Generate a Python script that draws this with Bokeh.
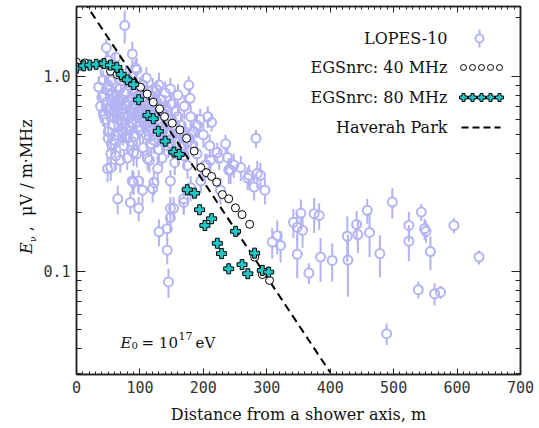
import math
from bokeh.plotting import figure
from bokeh.layouts import row
from bokeh.models import (Range1d, FixedTicker, LinearAxis, LogAxis, Label, Div,
                          PrintfTickFormatter, CustomJSTickFormatter)
from bokeh.embed import file_html
from bokeh.resources import INLINE

# ---------------- data ----------------
lopes_dist = [
    45, 60, 78, 95, 110, 55, 130, 35, 50, 68, 85, 100, 120, 140, 160,
    40, 55, 65, 75, 88, 98, 108, 118, 132, 150, 170,
    38, 48, 58, 70, 80, 92, 102, 112, 125, 138, 155, 180, 195,
    45, 60, 72, 82, 95, 105, 115, 128, 142, 165, 185, 200,
    50, 65, 78, 90, 100, 110, 122, 135, 150, 175, 210,
    55, 75, 88, 105, 118, 130, 145, 160, 190, 225,
    62, 80, 95, 115, 135, 155, 170, 205, 240,
    70, 90, 105, 115, 125, 140, 85, 65, 100, 120, 145, 160, 180, 190, 115, 95, 58, 42, 170, 150,
    42, 52, 62, 72, 82, 92, 102, 112, 122, 132, 142, 152, 162, 172, 182,
    58, 68, 78, 88, 98, 108, 118, 128, 138, 148, 158, 168,
    48, 63, 73, 83, 93, 103, 113, 123, 133, 143, 70, 60, 80,
    76, 47, 88, 93, 127, 148, 177, 179, 207, 213, 283, 235, 248, 272, 290, 280, 297, 227, 203, 50, 62,
    54, 65, 90, 112, 122, 153, 169, 180, 196, 211, 222, 238, 243, 259, 270, 285,
    50, 73, 54, 69, 49, 90, 128, 88, 98, 104, 85, 120, 148, 175,
    98, 148, 169, 148, 143, 130, 143, 145,
    316.5, 321.7, 308.6, 342, 348, 353.7, 356.4, 374.7, 382.6, 348, 366.4, 384.8,
    403.2, 426.9, 427.9, 441.6, 443.6, 458.4, 462, 478.3, 497.9, 489, 524, 524,
    543.6, 548.8, 551, 538.9, 558, 564.6, 574, 595, 634.5,
]
lopes_field = [
    1.05, 1.12, 1.00, 1.08, 0.98, 0.95, 0.90, 0.88, 0.90, 0.86, 0.92, 0.87, 0.85, 0.82, 0.80,
    0.78, 0.80, 0.75, 0.82, 0.77, 0.80, 0.74, 0.79, 0.76, 0.72, 0.70,
    0.70, 0.68, 0.72, 0.66, 0.70, 0.68, 0.71, 0.66, 0.69, 0.64, 0.66, 0.62, 0.60,
    0.60, 0.62, 0.57, 0.63, 0.58, 0.61, 0.56, 0.60, 0.57, 0.56, 0.52, 0.50,
    0.52, 0.50, 0.54, 0.49, 0.53, 0.50, 0.47, 0.52, 0.48, 0.46, 0.44,
    0.45, 0.44, 0.46, 0.43, 0.45, 0.42, 0.44, 0.41, 0.40, 0.38,
    0.39, 0.38, 0.40, 0.37, 0.38, 0.36, 0.39, 0.35, 0.33,
    0.95, 0.84, 0.90, 0.72, 0.63, 0.70, 0.55, 0.65, 0.64, 0.58, 0.50, 0.62, 0.50, 0.56, 0.52, 0.76, 0.56, 0.64, 0.52, 0.60,
    0.95, 0.85, 0.80, 0.76, 0.74, 0.72, 0.66, 0.62, 0.64, 0.58, 0.60, 0.56, 0.52, 0.48, 0.45,
    0.66, 0.60, 0.62, 0.58, 0.55, 0.56, 0.53, 0.50, 0.47, 0.45, 0.46, 0.44,
    0.74, 0.70, 0.68, 0.67, 0.63, 0.76, 0.70, 0.74, 0.68, 0.66, 0.53, 0.47, 0.48,
    1.82, 1.40, 1.30, 1.10, 0.85, 0.86, 0.90, 0.77, 0.62, 0.58, 0.48, 0.45, 0.35, 0.31, 0.31, 0.27, 0.26, 0.26, 0.35, 1.20, 1.25,
    0.34, 0.235, 0.285, 0.378, 0.285, 0.21, 0.235, 0.268, 0.29, 0.37, 0.406, 0.383, 0.33, 0.34, 0.30, 0.317,
    0.48, 0.51, 0.40, 0.37, 0.336, 0.406, 0.336, 0.29, 0.29, 0.26, 0.225, 0.265, 0.29, 0.348,
    0.21, 0.21, 0.225, 0.188, 0.165, 0.159, 0.128, 0.088,
    0.152, 0.1355, 0.141, 0.178, 0.168, 0.198, 0.162, 0.197, 0.193, 0.122, 0.0977, 0.118,
    0.1135, 0.151, 0.114, 0.1735, 0.154, 0.205, 0.158, 0.123, 0.226, 0.0478, 0.1715, 0.1425,
    0.201, 0.165, 0.16, 0.0803, 0.126, 0.0766, 0.078, 0.1715, 0.118,
]
lopes_err = [
    0.15, 0.18, 0.14, 0.16, 0.13, 0.12, 0.14, 0.12, 0.13, 0.12, 0.14, 0.12, 0.13, 0.12, 0.11,
    0.10, 0.12, 0.10, 0.11, 0.10, 0.12, 0.10, 0.11, 0.10, 0.10, 0.10,
    0.10, 0.09, 0.10, 0.09, 0.10, 0.09, 0.10, 0.09, 0.10, 0.09, 0.10, 0.09, 0.08,
    0.09, 0.09, 0.08, 0.09, 0.08, 0.09, 0.08, 0.09, 0.08, 0.08, 0.07, 0.07,
    0.08, 0.07, 0.08, 0.07, 0.08, 0.07, 0.07, 0.07, 0.07, 0.06, 0.06,
    0.07, 0.06, 0.07, 0.06, 0.06, 0.06, 0.06, 0.06, 0.06, 0.05,
    0.06, 0.05, 0.06, 0.05, 0.05, 0.05, 0.06, 0.05, 0.05,
    0.12, 0.10, 0.12, 0.10, 0.08, 0.10, 0.08, 0.08, 0.09, 0.08, 0.07, 0.08, 0.07, 0.08, 0.07, 0.10, 0.08, 0.09, 0.07, 0.08,
    0.12, 0.11, 0.10, 0.10, 0.10, 0.10, 0.09, 0.08, 0.09, 0.08, 0.08, 0.08, 0.07, 0.07, 0.06,
    0.09, 0.08, 0.08, 0.08, 0.08, 0.08, 0.07, 0.07, 0.07, 0.06, 0.06, 0.06,
    0.10, 0.10, 0.09, 0.09, 0.09, 0.10, 0.10, 0.10, 0.09, 0.09, 0.07, 0.07, 0.07,
    0.35, 0.15, 0.20, 0.12, 0.10, 0.12, 0.10, 0.08, 0.08, 0.06, 0.05, 0.05, 0.05, 0.04, 0.05, 0.04, 0.04, 0.04, 0.05, 0.12, 0.15,
    0.05, 0.04, 0.04, 0.05, 0.04, 0.03, 0.04, 0.04, 0.04, 0.05, 0.05, 0.05, 0.05, 0.05, 0.04, 0.05,
    0.07, 0.07, 0.06, 0.05, 0.05, 0.06, 0.05, 0.04, 0.04, 0.04, 0.03, 0.04, 0.04, 0.05,
    0.03, 0.03, 0.03, 0.03, 0.025, 0.025, 0.02, 0.015,
    0.03, 0.025, 0.025, 0.03, 0.03, 0.035, 0.03, 0.04, 0.03, 0.03, 0.012, 0.03,
    0.025, 0.04, 0.04, 0.03, 0.03, 0.03, 0.04, 0.03, 0.04, 0.006, 0.03, 0.03,
    0.02, 0.02, 0.02, 0.008, 0.025, 0.01, 0.006, 0.015, 0.01,
]

egs40_dist = [0, 13, 40.5, 53.6, 64, 73.7, 82.5, 101, 111.5, 121, 131, 138.8, 151, 163,
              173.5, 185.5, 196, 204.6, 213, 221, 230, 240, 250.6, 261, 273, 281, 293, 304.4]
egs40_field = [1.18, 1.17, 1.16, 1.06, 1.02, 0.98, 0.95, 0.878, 0.81, 0.736, 0.68, 0.62, 0.574, 0.53,
               0.48, 0.413, 0.34, 0.32, 0.306, 0.286, 0.247, 0.235, 0.211, 0.195, 0.174, 0.118, 0.096, 0.0896]

egs80_dist = [0, 11.5, 21, 31, 43.5, 53.6, 63.6, 70.5, 80, 90, 98, 112.6, 121, 129, 139.8, 153.5,
              162, 174.6, 186, 194, 202.4, 213, 222, 228.7, 240, 250.8, 261, 270, 280.8, 293, 303]
egs80_field = [1.10, 1.13, 1.14, 1.15, 1.16, 1.14, 1.11, 1.02, 0.958, 0.906, 0.757, 0.629, 0.605, 0.522,
               0.464, 0.408, 0.397, 0.2615, 0.251, 0.2065, 0.1715, 0.1857, 0.139, 0.123, 0.1028, 0.160,
               0.108, 0.097, 0.1237, 0.1009, 0.0989]

haverah_dist = [0, 400]
haverah_field = [2.76, 0.0302]

x_ticks = [0, 100, 200, 300, 400, 500, 600, 700]
x_minor = [v for v in range(10, 700, 10) if v % 100 != 0]
y_ticks = [0.1, 1.0]
y_minor = [0.03, 0.04, 0.05, 0.06, 0.07, 0.08, 0.09, 0.2, 0.3, 0.4, 0.5, 0.6, 0.7, 0.8, 0.9, 2.0]

legend_labels = ["LOPES-10", "EGSnrc: 40 MHz", "EGSnrc: 80 MHz", "Haverah Park"]

# ---------------- layout ----------------
W, H = 536, 426
LW = 40                           # width of the strip that carries the y title
X0, X1 = 0, 700
Y0, Y1 = 0.0295, 2.277
FL, FR, FT, FB = 76, 520, 6, 374   # frame edges in page pixels
SERIF = "DejaVu Serif"
MONO = "DejaVu Sans Mono"
LAV = "#b3b3f2"
CYAN = "#1ec8c8"
INK = "#111111"

L0, L1 = math.log10(Y0), math.log10(Y1)
DEC_PX = (FB - FT) / (L1 - L0)


def dx(px):
    return X0 + (px - FL) / (FR - FL) * (X1 - X0)


def dy(py):
    return 10 ** (L1 - (py - FT) / DEC_PX)


p = figure(width=W - LW, height=H, x_range=Range1d(X0, X1), y_range=Range1d(Y0, Y1),
           y_axis_type="log", output_backend="svg", toolbar_location=None,
           min_border_left=FL - LW, min_border_right=W - FR,
           min_border_top=FT, min_border_bottom=H - FB, margin=0)
p.xgrid.visible = False
p.ygrid.visible = False
p.outline_line_color = "#222222"
p.outline_line_width = 1.5
p.background_fill_color = "white"
p.border_fill_color = "white"

xt = FixedTicker(ticks=x_ticks, minor_ticks=x_minor)
yt = FixedTicker(ticks=y_ticks, minor_ticks=y_minor)
blank = CustomJSTickFormatter(code="return ''")


def style_axis(ax, major, minor, show_labels):
    ax.axis_line_color = "#222222"
    ax.axis_line_width = 1.5
    ax.major_tick_line_color = "#222222"
    ax.minor_tick_line_color = "#222222"
    ax.major_tick_in = major
    ax.major_tick_out = 0
    ax.minor_tick_in = minor
    ax.minor_tick_out = 0
    if show_labels:
        ax.major_label_text_font = MONO
        ax.major_label_text_font_size = "15px"
        ax.major_label_text_color = "#333333"
        ax.major_label_standoff = 6
    else:
        ax.formatter = blank
        ax.major_label_text_font_size = "2px"
        ax.major_label_standoff = 0


xa = p.xaxis[0]
xa.ticker = xt
style_axis(xa, 6, 3, True)
xa.axis_label = "Distance from a shower axis, m"
xa.axis_label_text_font = SERIF
xa.axis_label_text_font_size = "16px"
xa.axis_label_text_font_style = "normal"
xa.axis_label_text_color = INK
xa.axis_label_standoff = 9

ya = p.yaxis[0]
ya.ticker = yt
ya.formatter = PrintfTickFormatter(format="%.1f")
style_axis(ya, 9, 5, True)

top = LinearAxis(ticker=xt)
style_axis(top, 6, 3, False)
p.add_layout(top, "above")
right = LogAxis(ticker=yt)
style_axis(right, 9, 5, False)
p.add_layout(right, "right")

# ---------------- LOPES-10 ----------------
GAP = 10 ** (4.5 / DEC_PX)
up_x, up_y0, up_y1, lo_x, lo_y0, lo_y1 = [], [], [], [], [], []
for x, y, e in zip(lopes_dist, lopes_field, lopes_err):
    if y + e > y * GAP:
        up_x.append(x); up_y0.append(y * GAP); up_y1.append(y + e)
    if y - e < y / GAP:
        lo_x.append(x); lo_y0.append(max(y - e, 1e-4)); lo_y1.append(y / GAP)
p.segment(x0=up_x, y0=up_y0, x1=up_x, y1=up_y1, line_color=LAV, line_width=2)
p.segment(x0=lo_x, y0=lo_y0, x1=lo_x, y1=lo_y1, line_color=LAV, line_width=2)
p.scatter(x=lopes_dist, y=lopes_field, marker="circle", size=9, fill_color=None,
          line_color=LAV, line_width=2)

# ---------------- Haverah Park ----------------
p.line(x=haverah_dist, y=haverah_field, line_color="black", line_width=2, line_dash="8 5")

# ---------------- EGSnrc ----------------
p.scatter(x=egs40_dist, y=egs40_field, marker="circle", size=8, fill_color="white",
          line_color="black", line_width=1)
p.scatter(x=egs80_dist, y=egs80_field, marker="plus", size=10, fill_color=CYAN,
          line_color="black", line_width=1)

# ---------------- legend (custom, text left of symbol) ----------------
rows_py = [38, 67, 97, 127]
for lab, py in zip(legend_labels, rows_py):
    p.add_layout(Label(x=dx(447), y=dy(py), text=lab, text_align="right",
                       text_baseline="middle", text_font=SERIF, text_font_size="16px",
                       text_color=INK))
sx = [dx(463 + 9 * i) for i in range(5)]
p.segment(x0=[dx(479)], y0=[dy(29)], x1=[dx(479)], y1=[dy(34)], line_color=LAV, line_width=2)
p.segment(x0=[dx(479)], y0=[dy(42)], x1=[dx(479)], y1=[dy(47)], line_color=LAV, line_width=2)
p.scatter(x=[dx(479)], y=[dy(38)], marker="circle", size=8, fill_color=None,
          line_color=LAV, line_width=2)
p.scatter(x=sx, y=[dy(67)] * 5, marker="circle", size=6, fill_color="white",
          line_color="black", line_width=1)
p.scatter(x=sx, y=[dy(97)] * 5, marker="plus", size=8, fill_color=CYAN,
          line_color="black", line_width=1)
p.line(x=[dx(461), dx(500)], y=[dy(127)] * 2, line_color="black", line_width=2, line_dash="7 4")

# ---------------- E0 annotation ----------------
bpy = 342
p.add_layout(Label(x=dx(120), y=dy(bpy), text="E", text_font=SERIF, text_font_size="15px",
                   text_font_style="italic", text_baseline="alphabetic", text_color=INK))
p.add_layout(Label(x=dx(131), y=dy(bpy + 3), text="0", text_font=SERIF, text_font_size="10px",
                   text_baseline="alphabetic", text_color=INK))
p.add_layout(Label(x=dx(141), y=dy(bpy), text="= 10", text_font=SERIF, text_font_size="15px",
                   text_baseline="alphabetic", text_color=INK))
p.add_layout(Label(x=dx(178), y=dy(bpy - 7), text="17", text_font=SERIF, text_font_size="11px",
                   text_baseline="alphabetic", text_color=INK))
p.add_layout(Label(x=dx(195), y=dy(bpy), text="eV", text_font=SERIF, text_font_size="15px",
                   text_baseline="alphabetic", text_color=INK))

# ---------------- strip with the rotated y title (HTML text) ----------------
title_html = (
    '<div style="position:absolute; left:19px; top:254px; transform-origin:0 0; '
    'transform:rotate(-90deg); white-space:nowrap; line-height:1; '
    'font-family:\'DejaVu Serif\'; font-size:16px; color:#111111;">'
    '<i>E</i><sub style="font-size:10px;">&nu;</sub>&nbsp;,&nbsp; '
    '&mu;V / m&middot;MHz</div>'
)
ytitle = Div(text=title_html, width=LW, height=H, margin=0,
             styles={"position": "relative", "overflow": "visible", "background": "white",
                     "padding": "0", "margin": "0"})

layout = row(ytitle, p, spacing=0, margin=0)
open("out.html", "w").write(file_html(layout, INLINE))
